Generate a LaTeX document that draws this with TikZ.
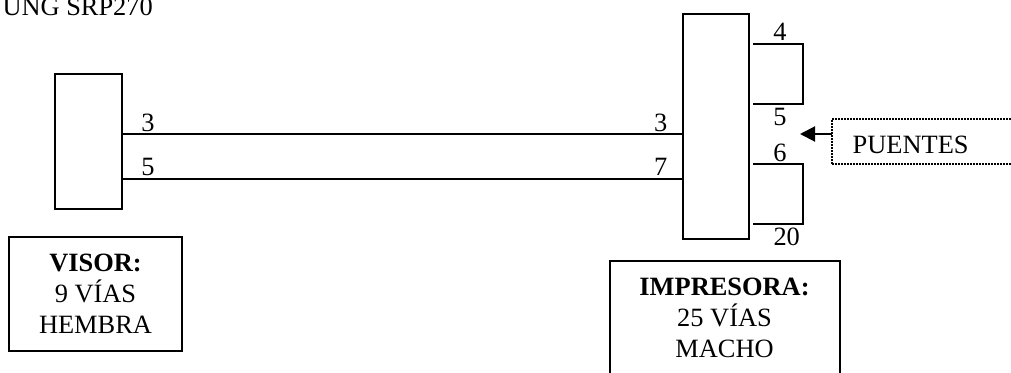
\documentclass[tikz,border=0pt]{standalone}
\usepackage{fontspec}
\setmainfont{Liberation Serif}
\usetikzlibrary{arrows.meta,calc}
\tikzset{
  every node/.style={inner sep=0pt,outer sep=0pt,font=\fontsize{26.4}{30.8}\selectfont},
  connbox/.style={draw=black,line width=2pt,minimum width=#1,anchor=north west},
  labelbox/.style={draw=black,line width=2pt,align=center,anchor=center},
  wire/.style={draw=black,line width=2pt},
  pin/.style={anchor=base},
}
\begin{document}
\begin{tikzpicture}[x=1pt,y=-1pt]
\path[use as bounding box,clip] (0,0) rectangle (1011,372);
\fill[white] (0,0) rectangle (1011,372);
\node[anchor=base west] (title) at (2.5,15) {UNG SRP270};
% connectors
\node[connbox=67pt,minimum height=135pt] (visor) at (55,74) {};
\node[connbox=66pt,minimum height=225pt] (imp) at (683,14) {};
% label boxes
\node[labelbox,minimum width=173pt,minimum height=114pt] (visorlbl) at (95.5,294) {\textbf{VISOR:}\\9 VÍAS\\HEMBRA};
\node[labelbox,minimum width=230pt,minimum height=115pt] (implbl) at (724.5,318) {\textbf{IMPRESORA:}\\25 VÍAS\\MACHO};
% wires
\coordinate (va) at (visor.east |- 0,134);
\coordinate (vb) at (visor.east |- 0,179);
\coordinate (ia) at (imp.west |- 0,134);
\coordinate (ib) at (imp.west |- 0,179);
\draw[wire] (va) -- (ia);
\draw[wire] (vb) -- (ib);
% jumpers
\coordinate (j4) at (753,43.5);
\coordinate (j5) at (753,103.5);
\coordinate (j6) at (753,163.5);
\coordinate (j20) at (753,223.5);
\draw[wire] (j4) -| (803,103.5) -- (j5);
\draw[wire] (j6) -| (803,223.5) -- (j20);
% pin numbers
\node[pin] (p3l) at (148,131) {3};
\node[pin] (p5l) at (148,175) {5};
\node[pin] (p3r) at (660.7,131) {3};
\node[pin] (p7r) at (660.7,175) {7};
\node[pin] (p4) at (780,40.7) {4};
\node[pin] (p5) at (780,125) {5};
\node[pin] (p6) at (780,161.7) {6};
\node[pin] (p20) at (786.7,245) {20};
% PUENTES
\node[draw=black,line width=1.5pt,dash pattern=on 1.5pt off 1.5pt,anchor=west,minimum width=210pt,minimum height=45pt,text width=189pt,inner xsep=20.7pt,align=left,text height=25pt,text depth=2pt] (puentes) at (832,141.5) {PUENTES};
\coordinate (tip) at (800,134);
\draw[wire,-{Triangle[length=15pt,width=15pt]}] (puentes.west |- tip) -- (tip);
\end{tikzpicture}
\end{document}
